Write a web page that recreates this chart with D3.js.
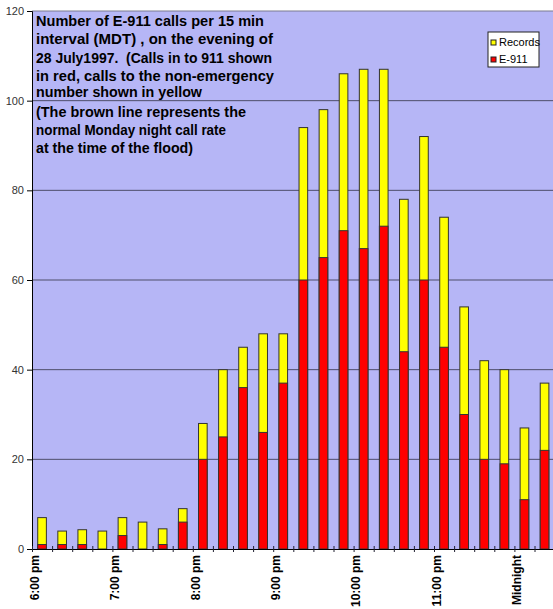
<!DOCTYPE html>
<html>
<head>
<meta charset="utf-8">
<script src="https://cdn.jsdelivr.net/npm/d3@7"></script>
<style>
  body { margin: 0; background: #fff; }
  svg { display: block; }
</style>
</head>
<body>
<div id="chart"></div>
<script>
// 15 minute intervals from 6:00 pm to 12:15 am
const slots = ["18:00","18:15","18:30","18:45","19:00","19:15","19:30","19:45",
  "20:00","20:15","20:30","20:45","21:00","21:15","21:30","21:45",
  "22:00","22:15","22:30","22:45","23:00","23:15","23:30","23:45",
  "00:00","00:15"];
// total calls (records + e-911) and the e-911 part
const totalCalls = [7, 4, 4.3, 4, 7, 6, 4.5, 9,
  28, 40, 45, 48, 48, 94, 98, 106,
  107, 107, 78, 92, 74, 54, 42, 40,
  27, 37];
const e911Calls = [1, 1, 1, 0, 3, 0, 1, 6,
  20, 25, 36, 26, 37, 60, 65, 71,
  67, 72, 44, 60, 45, 30, 20, 19,
  11, 22];
const hourLabels = ["6:00 pm", "7:00 pm", "8:00 pm", "9:00 pm", "10:00 pm", "11:00 pm", "Midnight"];
const yTicks = [0, 20, 40, 60, 80, 100, 120];
const noteLines = [
  "Number of E-911 calls per 15 min",
  "interval (MDT) , on the evening of",
  "28 July1997.  (Calls in to 911 shown",
  "in red, calls to the non-emergency",
  "number shown in yellow",
  "(The brown line represents the",
  "normal Monday night call rate",
  "at the time of the flood)"
];
const legendItems = [
  { name: "Records", color: "#ffff00" },
  { name: "E-911", color: "#ff0000" }
];

const width = 553, height = 609;
const plotLeft = 32, plotTop = 11, plotBottom = 549;
const step = 20.1;
const plotRight = plotLeft + slots.length * step;

const svg = d3.select("#chart").append("svg")
  .attr("width", width)
  .attr("height", height);

// plot background
svg.append("rect")
  .attr("x", plotLeft).attr("y", plotTop)
  .attr("width", plotRight - plotLeft).attr("height", plotBottom - plotTop)
  .attr("fill", "#b6b6f6");

const x = d3.scaleBand()
  .domain(slots)
  .range([plotLeft, plotRight])
  .paddingInner(0.57)
  .paddingOuter(0.285);

const xIdx = d3.scaleLinear()
  .domain([0, slots.length])
  .range([plotLeft, plotRight]);

const y = d3.scaleLinear()
  .domain([0, 120])
  .range([plotBottom, plotTop]);

// gridlines
svg.append("g")
  .selectAll("line")
  .data(yTicks.filter(d => d > 0))
  .join("line")
  .attr("x1", plotLeft).attr("x2", plotRight)
  .attr("y1", d => y(d)).attr("y2", d => y(d))
  .attr("stroke", d => d === 120 ? "#7a7a90" : "#4e4e6a")
  .attr("stroke-width", 1);

// bars: yellow total, then red e-911 on top of it
const bars = svg.append("g");
bars.selectAll("rect.rec")
  .data(slots)
  .join("rect")
  .attr("class", "rec")
  .attr("x", d => x(d))
  .attr("width", x.bandwidth())
  .attr("y", (d, i) => y(totalCalls[i]))
  .attr("height", (d, i) => y(0) - y(totalCalls[i]))
  .attr("fill", "#ffff00")
  .attr("stroke", "#333")
  .attr("stroke-width", 1);

bars.selectAll("rect.e911")
  .data(slots.filter((d, i) => e911Calls[i] > 0))
  .join("rect")
  .attr("class", "e911")
  .attr("x", d => x(d))
  .attr("width", x.bandwidth())
  .attr("y", d => y(e911Calls[slots.indexOf(d)]))
  .attr("height", d => y(0) - y(e911Calls[slots.indexOf(d)]))
  .attr("fill", "#ff0000")
  .attr("stroke", "#333")
  .attr("stroke-width", 1);

// y axis
const yAxis = svg.append("g")
  .attr("transform", "translate(" + plotLeft + ",0)")
  .call(d3.axisLeft(y).tickValues(yTicks).tickSizeOuter(0).tickSize(5).tickPadding(3));
yAxis.select(".domain").attr("stroke", "#000");
yAxis.selectAll(".tick line").attr("stroke", "#000");
yAxis.selectAll("text")
  .attr("font-family", "Liberation Sans, Arial, sans-serif")
  .attr("font-size", 11)
  .attr("fill", "#333");

// x axis, ticks on the slot boundaries, a label every hour
const xAxis = svg.append("g")
  .attr("transform", "translate(0," + plotBottom + ")")
  .call(d3.axisBottom(xIdx)
    .tickValues(d3.range(slots.length + 1))
    .tickSizeOuter(0)
    .tickSize(3)
    .tickFormat(i => i % 4 === 0 ? hourLabels[i / 4] : ""));
xAxis.select(".domain").attr("stroke", "#000");
xAxis.selectAll(".tick line").attr("y1", -3).attr("stroke", "#223");
xAxis.selectAll("text")
  .attr("transform", "rotate(-90)")
  .attr("x", -6)
  .attr("y", 2)
  .attr("dy", "0.35em")
  .attr("text-anchor", "end")
  .attr("font-family", "Liberation Sans, Arial, sans-serif")
  .attr("font-weight", "bold")
  .attr("font-size", 12)
  .attr("fill", "#000");

// note text in the top left corner
const noteBase = [25.5, 44, 62.5, 81, 97, 117, 135, 153];
const noteWidth = [228, 237, 236, 238, 166, 210, 190, 157];
svg.append("g")
  .selectAll("text")
  .data(noteLines)
  .join("text")
  .attr("x", 36)
  .attr("y", (d, i) => noteBase[i])
  .attr("textLength", (d, i) => noteWidth[i])
  .attr("lengthAdjust", "spacingAndGlyphs")
  .attr("font-family", "Liberation Sans, Arial, sans-serif")
  .attr("font-weight", "bold")
  .attr("font-size", 15.5)
  .attr("fill", "#000")
  .style("white-space", "pre")
  .text(d => d);

// legend
const legend = svg.append("g").attr("transform", "translate(488,32)");
legend.append("rect")
  .attr("width", 51).attr("height", 35)
  .attr("fill", "#fff")
  .attr("stroke", "#222");
const item = legend.selectAll("g.item")
  .data(legendItems)
  .join("g")
  .attr("class", "item")
  .attr("transform", (d, i) => "translate(3," + (8 + i * 17) + ")");
item.append("rect")
  .attr("width", 5).attr("height", 5)
  .attr("fill", d => d.color)
  .attr("stroke", "#222");
item.append("text")
  .attr("x", 8).attr("y", 5.5)
  .attr("font-family", "Liberation Sans, Arial, sans-serif")
  .attr("font-size", 11)
  .attr("fill", "#000")
  .text(d => d.name);
</script>
</body>
</html>
